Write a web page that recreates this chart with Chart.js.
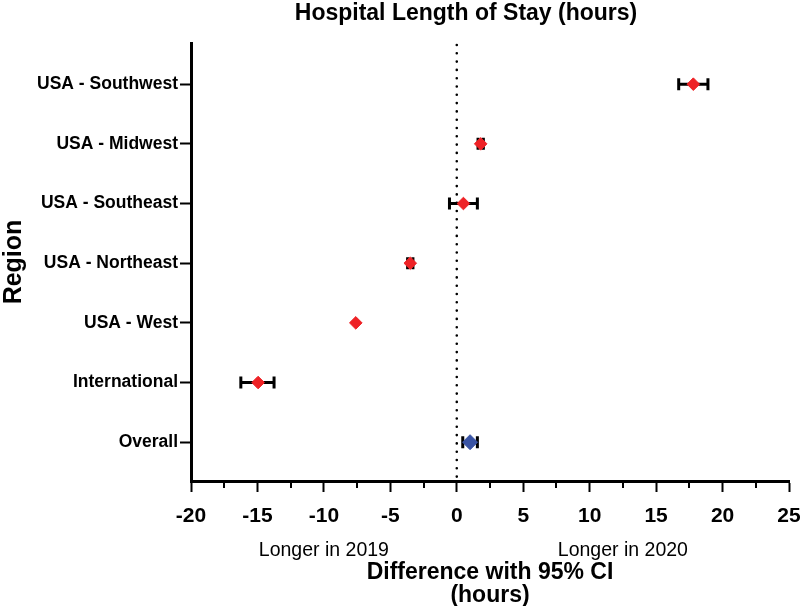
<!DOCTYPE html>
<html>
<head>
<meta charset="utf-8">
<script src="https://cdn.jsdelivr.net/npm/chart.js@4.4.1/dist/chart.umd.min.js"></script>
<style>
  html, body { margin: 0; padding: 0; background: #fff; }
  #wrap { width: 800px; height: 606px; }
</style>
</head>
<body>
<div id="wrap"><canvas id="graph" width="800" height="606"></canvas></div>
<script>
// data
const regions = ['USA - Southwest', 'USA - Midwest', 'USA - Southeast', 'USA - Northeast', 'USA - West', 'International', 'Overall'];
const diff = [17.8, 1.8, 0.5, -3.5, -7.6, -14.95, 1.0];
const ciLow = [16.7, 1.6, -0.55, -3.7, -7.6, -16.25, 0.45];
const ciHigh = [18.9, 2.0, 1.55, -3.3, -7.6, -13.75, 1.55];
const xMin = -20;
const xMax = 25;
const xStep = 5;

const FONT = '"Liberation Sans", Arial, Helvetica, sans-serif';
const RED = 'rgb(238, 34, 38)';
const BLUE = 'rgb(58, 84, 164)';

// row index -> y value (top row highest)
const rowY = regions.map((r, i) => regions.length - 1 - i);

const points = regions.map((r, i) => ({ x: diff[i], y: rowY[i] }));

const extras = {
    id: 'extras',
    beforeDatasetsDraw(chart) {
        const ctx = chart.ctx;
        const xs = chart.scales.x;
        const ys = chart.scales.y;
        const area = chart.chartArea;

        // dotted line at zero
        ctx.save();
        ctx.strokeStyle = '#000';
        ctx.lineWidth = 2.6;
        ctx.lineCap = 'round';
        ctx.setLineDash([0, 8.3]);
        const x0 = xs.getPixelForValue(0);
        ctx.beginPath();
        ctx.moveTo(x0, area.top + 2);
        ctx.lineTo(x0, area.bottom - 2);
        ctx.stroke();
        ctx.restore();

        // error bars
        ctx.save();
        ctx.strokeStyle = '#000';
        ctx.lineWidth = 3;
        for (let i = 0; i < regions.length; i++) {
            if (ciHigh[i] - ciLow[i] <= 0) continue;
            const y = ys.getPixelForValue(rowY[i]);
            const a = xs.getPixelForValue(ciLow[i]);
            const b = xs.getPixelForValue(ciHigh[i]);
            ctx.beginPath();
            ctx.moveTo(a, y);
            ctx.lineTo(b, y);
            ctx.moveTo(a, y - 6);
            ctx.lineTo(a, y + 6);
            ctx.moveTo(b, y - 6);
            ctx.lineTo(b, y + 6);
            ctx.stroke();
        }
        ctx.restore();
    },
    afterDraw(chart) {
        const ctx = chart.ctx;
        const xs = chart.scales.x;
        const area = chart.chartArea;

        // minor ticks
        ctx.save();
        ctx.strokeStyle = '#000';
        ctx.lineWidth = 2;
        for (let v = xMin + xStep / 2; v < xMax; v += xStep) {
            const px = Math.round(xs.getPixelForValue(v));
            ctx.beginPath();
            ctx.moveTo(px, area.bottom);
            ctx.lineTo(px, area.bottom + 7);
            ctx.stroke();
        }
        ctx.restore();

        ctx.save();
        ctx.fillStyle = '#000';
        ctx.textAlign = 'center';
        ctx.textBaseline = 'middle';

        ctx.font = 'bold 23px ' + FONT;
        ctx.fillText('Hospital Length of Stay (hours)', 466, 14);

        ctx.font = '19.5px ' + FONT;
        ctx.fillText('Longer in 2019', xs.getPixelForValue(-10), 551);
        ctx.fillText('Longer in 2020', xs.getPixelForValue(12.5), 551);

        const cx = (area.left + area.right) / 2;
        ctx.font = 'bold 23px ' + FONT;
        ctx.fillText('Difference with 95% CI', cx, 573);
        ctx.fillText('(hours)', cx, 596);

        ctx.font = 'bold 25px ' + FONT;
        ctx.translate(14, (area.top + area.bottom) / 2);
        ctx.rotate(-Math.PI / 2);
        ctx.fillText('Region', 0, 0);
        ctx.restore();
    }
};

const ctx = document.getElementById('graph').getContext('2d');

const config = {
    type: 'scatter',
    data: {
        datasets: [{
            label: 'Difference',
            data: points,
            pointStyle: 'rectRot',
            pointRadius: regions.map(r => r === 'Overall' ? 7.5 : 6.3),
            pointHoverRadius: regions.map(r => r === 'Overall' ? 7.5 : 6.3),
            backgroundColor: regions.map(r => r === 'Overall' ? BLUE : RED),
            borderColor: regions.map(r => r === 'Overall' ? BLUE : RED),
            borderWidth: 1
        }]
    },
    options: {
        responsive: false,
        animation: false,
        layout: { padding: { top: 43, right: 11, left: 0, bottom: 0 } },
        plugins: {
            legend: { display: false },
            title: { display: false },
            tooltip: { enabled: false }
        },
        scales: {
            x: {
                type: 'linear',
                min: xMin,
                max: xMax,
                afterFit(scale) {
                    scale.height = 125;
                    scale.paddingRight = 0;
                    scale.paddingLeft = 0;
                },
                border: { display: true, color: '#000', width: 3 },
                grid: {
                    drawOnChartArea: false,
                    drawTicks: true,
                    tickLength: 11,
                    tickColor: '#000',
                    tickWidth: 2
                },
                ticks: {
                    stepSize: xStep,
                    color: '#000',
                    padding: 12,
                    font: { family: FONT, size: 21, weight: 'bold' },
                    maxRotation: 0
                }
            },
            y: {
                type: 'linear',
                min: -0.65,
                max: 6.69,
                afterFit(scale) {
                    scale.width = 191;
                    scale.paddingTop = 0;
                    scale.paddingBottom = 0;
                },
                afterBuildTicks(scale) {
                    scale.ticks = rowY.map(v => ({ value: v }));
                },
                border: { display: true, color: '#000', width: 3 },
                grid: {
                    drawOnChartArea: false,
                    drawTicks: true,
                    tickLength: 11,
                    tickColor: '#000',
                    tickWidth: 2
                },
                ticks: {
                    color: '#000',
                    padding: 2,
                    font: { family: FONT, size: 17.5, weight: 'bold' },
                    callback: function (value) {
                        return regions[regions.length - 1 - value];
                    }
                }
            }
        }
    },
    plugins: [extras]
};

let graph = new Chart(ctx, config);
</script>
</body>
</html>
